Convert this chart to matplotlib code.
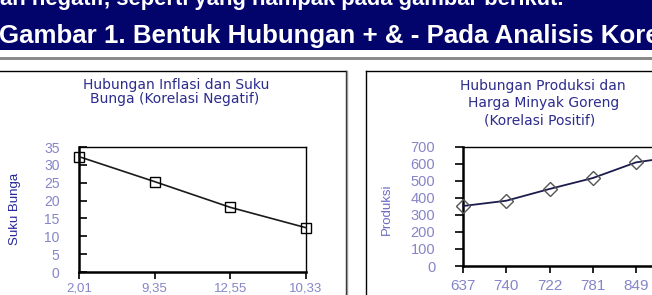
import matplotlib
matplotlib.use('Agg')
import matplotlib.pyplot as plt
from matplotlib.patches import Rectangle
from matplotlib.lines import Line2D

# ---------------- data ----------------
left_categories = ['2,01', '9,35', '12,55', '10,33']
left_values = [32.3, 25.3, 18.1, 12.4]
left_yticks = [0, 5, 10, 15, 20, 25, 30, 35]

right_categories = ['637', '740', '722', '781', '849', '']
right_values = [352, 383, 452, 516, 608, 645]
right_yticks = [0, 100, 200, 300, 400, 500, 600, 700]

heading_top = 'an negatif, seperti yang nampak pada gambar berikut.'
heading_main = 'Gambar 1. Bentuk Hubungan + & - Pada Analisis Korelasi'
left_title = ['Hubungan Inflasi dan Suku', 'Bunga (Korelasi Negatif)']
right_title = ['Hubungan Produksi dan', 'Harga Minyak Goreng', '(Korelasi Positif)']

# ---------------- layout helpers ----------------
W, H = 652, 295
fig = plt.figure(figsize=(W / 100, H / 100), dpi=100)
fig.patch.set_facecolor('white')


def fx(x):
    return x / W


def fy(y):
    return 1 - y / H


NAVY = '#03036c'
TITLE_C = '#2c2c8c'
TICK_C = '#8585c8'

# top band
fig.patches.append(Rectangle((0, fy(50)), 1, 50 / H, transform=fig.transFigure,
                             facecolor=NAVY, edgecolor='none', zorder=0))
fig.patches.append(Rectangle((0, fy(60)), 1, 3 / H, transform=fig.transFigure,
                             facecolor='#8a8a8a', edgecolor='none', zorder=0))
fig.text(fx(0), fy(4.5), heading_top, ha='left', va='baseline', color='white',
         fontsize=15.8, fontweight='bold', family='Liberation Sans')
fig.text(fx(-1), fy(43.5), heading_main, ha='left', va='baseline', color='white',
         fontsize=18.6, fontweight='bold', family='Liberation Sans')

# panel borders
fig.lines.append(Line2D([fx(0), fx(345.5)], [fy(70.5), fy(70.5)], transform=fig.transFigure,
                        color='black', lw=1))
fig.lines.append(Line2D([fx(345.5), fx(345.5)], [fy(70.5), fy(300)], transform=fig.transFigure,
                        color='#222222', lw=1))
fig.lines.append(Line2D([fx(347), fx(347)], [fy(71), fy(300)], transform=fig.transFigure,
                        color='#9a9a9a', lw=1))
fig.lines.append(Line2D([fx(366), fx(660)], [fy(71), fy(71)], transform=fig.transFigure,
                        color='black', lw=1))
fig.lines.append(Line2D([fx(366), fx(366)], [fy(71), fy(300)], transform=fig.transFigure,
                        color='black', lw=1))

# ---------------- left chart ----------------
axL = fig.add_axes([fx(79), fy(272), (306 - 79) / W, (272 - 147) / H])
xl = list(range(len(left_categories)))
axL.plot(xl, left_values, color='#1a1a1a', lw=1.2, marker='s', markersize=7,
         mfc='none', mec='black', mew=1.0, clip_on=False, zorder=3)
axL.set_xlim(0, len(left_categories) - 1)
axL.set_ylim(0, 35)
axL.set_yticks(left_yticks)
axL.set_xticks(xl)
axL.set_xticklabels(left_categories)
axL.tick_params(axis='y', direction='in', length=6, width=1.2, color='black',
                pad=14, labelsize=10, labelcolor=TICK_C)
axL.tick_params(axis='x', direction='out', length=5, width=1.2, color='black',
                pad=2.5, labelsize=9.5, labelcolor=TICK_C)
for lab in axL.get_xticklabels() + axL.get_yticklabels():
    lab.set_family('Liberation Sans')
for s in ['top', 'right']:
    axL.spines[s].set_linewidth(1.0)
for s in ['left', 'bottom']:
    axL.spines[s].set_linewidth(1.8)
fig.text(fx(15), fy(209), 'Suku Bunga', rotation=90, ha='center', va='center',
         color='#26269a', fontsize=9.5, family='Liberation Sans')
fig.text(fx(176), fy(85.5), left_title[0], ha='center', va='center', color=TITLE_C,
         fontsize=10, family='DejaVu Sans')
fig.text(fx(175), fy(99.5), left_title[1], ha='center', va='center', color=TITLE_C,
         fontsize=10, family='DejaVu Sans')

# ---------------- right chart ----------------
step = (636 - 463) / 4
xr = list(range(len(right_categories)))
right_edge = 463 + step * (len(right_categories) - 1)
axR = fig.add_axes([fx(463), fy(266), (right_edge - 463) / W, (266 - 146.7) / H])
axR.plot(xr, right_values, color='#1c1c4c', lw=1.3, marker='D', markersize=7.5,
         mfc='none', mec='#555555', mew=1.0, clip_on=False, zorder=3)
axR.set_xlim(0, len(right_categories) - 1)
axR.set_ylim(0, 700)
axR.set_yticks(right_yticks)
axR.set_xticks(xr)
axR.set_xticklabels(right_categories)
axR.tick_params(axis='y', direction='out', length=6, width=1.2, color='black',
                pad=14, labelsize=10.5, labelcolor=TICK_C)
axR.tick_params(axis='x', direction='out', length=5, width=1.2, color='black',
                pad=4, labelsize=11, labelcolor=TICK_C)
for lab in axR.get_xticklabels() + axR.get_yticklabels():
    lab.set_family('Liberation Sans')
for s in ['top', 'right']:
    axR.spines[s].set_linewidth(1.0)
for s in ['left', 'bottom']:
    axR.spines[s].set_linewidth(1.8)
fig.text(fx(387), fy(209), 'Produksi', rotation=90, ha='center', va='center',
         color='#6c6cc4', fontsize=9.5, family='Liberation Sans')
for txt, cx, cy in zip(right_title, [543, 544, 540], [86.5, 103, 120.5]):
    fig.text(fx(cx), fy(cy), txt, ha='center', va='center', color=TITLE_C,
             fontsize=10, family='DejaVu Sans')

fig.savefig('out.png', dpi=100, facecolor='white')
